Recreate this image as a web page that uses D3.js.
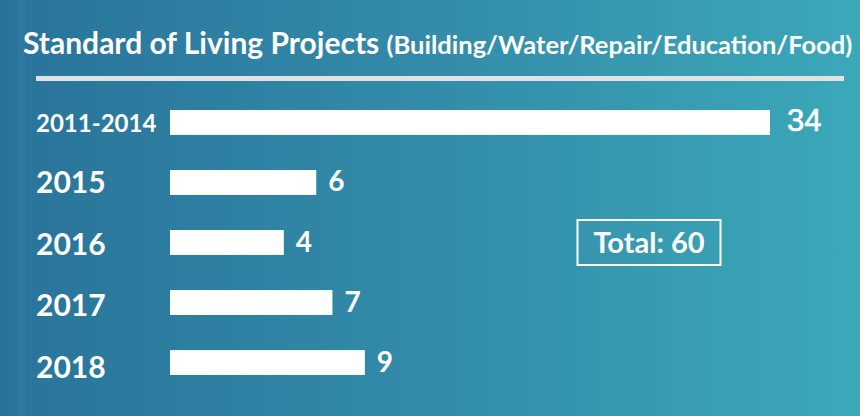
<!DOCTYPE html>
<html>
<head>
<meta charset="utf-8">
<script src="https://cdn.jsdelivr.net/npm/d3@7"></script>
<style>
  html, body { margin: 0; padding: 0; background: #fff; }
  svg { display: block; }
  text { font-family: Lato, "Open Sans", sans-serif; fill: #fff; }
</style>
</head>
<body>
<div id="chart"></div>
<script>
// Chart values
var periods = ["2011-2014", "2015", "2016", "2017", "2018"];
var projects = [34, 6, 4, 7, 9];
var titleMain = "Standard of Living Projects";
var titleSub = "(Building/Water/Repair/Education/Food)";
var totalLabel = "Total: 60";

var width = 860, height = 416;

const svg = d3.select("#chart")
  .append("svg")
  .attr("width", width)
  .attr("height", height);

// background gradient, dark blue on the left to teal on the right
var defs = svg.append("defs");
var grad = defs.append("linearGradient")
  .attr("id", "bg")
  .attr("x1", "0%").attr("y1", "0%")
  .attr("x2", "100%").attr("y2", "0%");
grad.append("stop").attr("offset", "0%").attr("stop-color", "#29739a");
grad.append("stop").attr("offset", "50%").attr("stop-color", "#338ca9");
grad.append("stop").attr("offset", "100%").attr("stop-color", "#3ba8b8");

svg.append("rect")
  .attr("width", width)
  .attr("height", height)
  .attr("fill", "url(#bg)");

// faint lighter stripe near the left edge
svg.append("rect")
  .attr("x", 18).attr("width", 7)
  .attr("height", height)
  .attr("fill", "#ffffff")
  .attr("opacity", 0.03);

// Title
var title = svg.append("text")
  .attr("x", 23)
  .attr("y", 54)
  .style("font-weight", 700);
title.append("tspan")
  .style("font-size", "30px")
  .text(titleMain + " ");
title.append("tspan")
  .style("font-size", "25.5px")
  .text(titleSub);

// rule under the title
svg.append("line")
  .attr("x1", 36).attr("x2", 844)
  .attr("y1", 78.5).attr("y2", 78.5)
  .attr("stroke", "#e2e2e2")
  .attr("stroke-width", 5);

// Scales
var barX0 = 170;
var x = d3.scaleLinear()
  .domain([0, 34])
  .range([49, 600]);

var y = d3.scaleBand()
  .domain(periods)
  .range([92, 393])
  .paddingInner(0.585)
  .paddingOuter(0.3);

var yLabel = d3.scalePoint()
  .domain(periods)
  .range([131.5, 378]);

// Bars
svg.selectAll("rect.bar")
  .data(periods)
  .enter().append("rect")
  .attr("class", "bar")
  .attr("x", barX0)
  .attr("y", d => y(d))
  .attr("width", (d, i) => x(projects[i]))
  .attr("height", y.bandwidth())
  .attr("fill", "#ffffff");

// Category labels
svg.selectAll("text.cat")
  .data(periods)
  .enter().append("text")
  .attr("class", "cat")
  .attr("x", 36)
  .attr("y", d => yLabel(d))
  .style("font-weight", 700)
  .style("font-size", (d, i) => i == 0 ? "24px" : "30px")
  .text(d => d);

// Value labels
svg.selectAll("text.val")
  .data(periods)
  .enter().append("text")
  .attr("class", "val")
  .attr("x", (d, i) => barX0 + x(projects[i]) + (i == 0 ? 17 : 12))
  .attr("y", d => y(d) + y.bandwidth() / 2 + 9)
  .style("font-weight", (d, i) => i == 0 ? 400 : 700)
  .style("font-family", (d, i) => i == 0 ? "'Liberation Sans', Arial, sans-serif" : null)
  .style("font-size", (d, i) => i == 0 ? "31px" : "28px")
  .attr("stroke", (d, i) => i == 0 ? "#ffffff" : null)
  .attr("stroke-width", (d, i) => i == 0 ? 0.6 : null)
  .text((d, i) => projects[i]);

// Total box
svg.append("rect")
  .attr("x", 577.5).attr("y", 220)
  .attr("width", 143).attr("height", 45)
  .attr("fill", "none")
  .attr("stroke", "#ffffff")
  .attr("stroke-width", 2);

svg.append("text")
  .attr("x", 649)
  .attr("y", 252.5)
  .attr("text-anchor", "middle")
  .style("font-weight", 700)
  .style("font-size", "29px")
  .text(totalLabel);
</script>
</body>
</html>
